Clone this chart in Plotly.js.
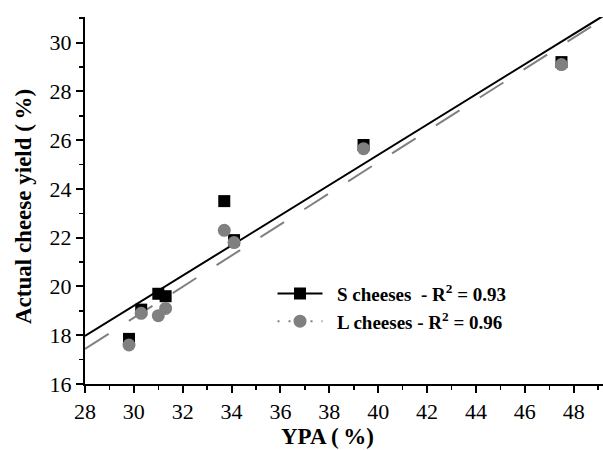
<!DOCTYPE html>
<html>
<head>
<meta charset="utf-8">
<script src="https://cdn.plot.ly/plotly-3.0.1.min.js"></script>
<style>html,body{margin:0;padding:0;background:#fff}#chart{width:603px;height:450px}</style>
</head>
<body>
<div id="chart"></div>
<script>
// YPA (%) values
var ypaS = [29.8, 30.3, 31.0, 31.3, 33.7, 34.1, 39.4, 47.5];
var yieldS = [17.85, 19.05, 19.7, 19.6, 23.5, 21.9, 25.8, 29.2];
var ypaL = [29.8, 30.3, 31.0, 31.3, 33.7, 34.1, 39.4, 47.5];
var yieldL = [17.6, 18.9, 18.8, 19.1, 22.3, 21.8, 25.65, 29.1];
// regression lines: [value at x0, slope]
var fitX = [28, 49.2];
var fitS = {x0: 28, y0: 17.97, slope: 0.619};
var fitL = {x0: 28, y0: 17.44, slope: 0.638};
var labelS = '\u00a0\u00a0S cheeses\u00a0\u00a0- R<sup>2</sup> = 0.93';
var labelL = '\u00a0\u00a0L cheeses - R<sup>2</sup> = 0.96';
var xTitle = 'YPA (\u2009%)';
var yTitle = 'Actual cheese yield (\u2009%)';

function fitY(f){ return fitX.map(function(x){ return f.y0 + f.slope*(x - f.x0); }); }

var grey = '#808080';
var serif = 'Liberation Serif, Times New Roman, serif';
var traces = [
  {x: fitX, y: fitY(fitS), mode: 'lines', line: {color: '#000', width: 2}, showlegend: false, hoverinfo: 'skip'},
  {x: fitX, y: fitY(fitL), mode: 'lines', line: {color: grey, width: 2, dash: '28px,24px'}, showlegend: false, hoverinfo: 'skip'},
  {x: ypaS, y: yieldS, mode: 'markers', marker: {symbol: 'square', size: 12, color: '#000'}, showlegend: false},
  {x: ypaL, y: yieldL, mode: 'markers', marker: {symbol: 'circle', size: 13, color: grey}, showlegend: false},
  {x: [null], y: [null], name: labelS, mode: 'lines+markers', line: {color: '#000', width: 2}, marker: {symbol: 'square', size: 12, color: '#000'}},
  {x: [null], y: [null], name: labelL, mode: 'lines+markers', line: {color: grey, width: 2, dash: '2px,9px'}, marker: {symbol: 'circle', size: 13, color: grey}}
];

var axisCommon = {
  showline: true, linecolor: '#000', linewidth: 2, mirror: false,
  ticks: 'outside', ticklen: 7, tickwidth: 2, tickcolor: '#000',
  showgrid: false, zeroline: false,
  tickfont: {family: serif, size: 22, color: '#000'},
  minor: {ticks: 'outside', ticklen: 4, tickwidth: 1.5, tickcolor: '#000', dtick: 1, showgrid: false}
};

var titleFont = {family: serif, size: 23, color: '#000', weight: 'bold'};

var layout = {
  width: 603, height: 450,
  margin: {l: 85, r: 0, t: 17, b: 66},
  paper_bgcolor: '#fff', plot_bgcolor: '#fff',
  font: {family: serif, color: '#000'},
  xaxis: Object.assign({}, axisCommon, {range: [28, 49.2], dtick: 2, tick0: 28}),
  yaxis: Object.assign({}, axisCommon, {range: [16, 31.05], dtick: 2, tick0: 16}),
  annotations: [
    {text: xTitle, xref: 'paper', yref: 'paper', x: 0.469, y: -0.142, xanchor: 'center', yanchor: 'middle', showarrow: false, font: titleFont},
    {text: yTitle, xref: 'paper', yref: 'paper', x: -0.1197, y: 0.485, xanchor: 'center', yanchor: 'middle', textangle: -90, showarrow: false, font: titleFont}
  ],
  showlegend: true,
  legend: {
    x: 0.362, y: 0.298, xanchor: 'left', yanchor: 'top',
    itemwidth: 45,
    bgcolor: 'rgba(0,0,0,0)', borderwidth: 0,
    font: {family: serif, size: 19, color: '#000', weight: 'bold'}
  }
};

Plotly.newPlot('chart', traces, layout, {displayModeBar: false, staticPlot: true});
</script>
</body>
</html>
